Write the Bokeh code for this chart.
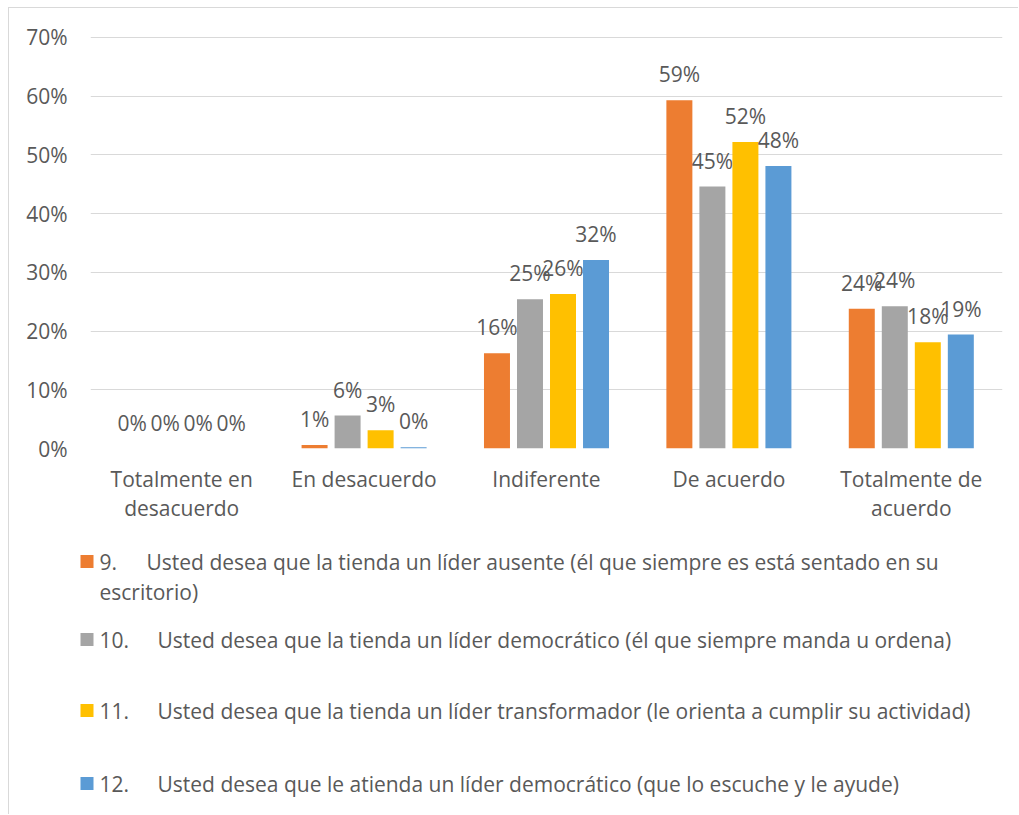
from bokeh.plotting import figure
from bokeh.models import ColumnDataSource, FactorRange, Range1d, FixedTicker, NumeralTickFormatter
from bokeh.transform import dodge
from bokeh.core.properties import value
from bokeh.embed import file_html
from bokeh.resources import INLINE

# ---------------- data ----------------
categories = ["Totalmente en\ndesacuerdo", "En desacuerdo", "Indiferente", "De acuerdo", "Totalmente de\nacuerdo"]
s9 = [0.0, 0.006, 0.162, 0.593, 0.238]
s10 = [0.0, 0.056, 0.254, 0.446, 0.242]
s11 = [0.0, 0.031, 0.263, 0.522, 0.181]
s12 = [0.0, 0.002, 0.321, 0.481, 0.194]
series_numbers = ["9.", "10.", "11.", "12."]
series_texts = [
    "Usted desea que la tienda un líder ausente (él que siempre es está sentado en su\nescritorio)",
    "Usted desea que la tienda un líder democrático (él que siempre manda u ordena)",
    "Usted desea que la tienda un líder transformador (le orienta a cumplir su actividad)",
    "Usted desea que le atienda un líder democrático (que lo escuche y le ayude)",
]
y_ticks = [0.0, 0.1, 0.2, 0.3, 0.4, 0.5, 0.6, 0.7]

colors = ["#ED7D31", "#A5A5A5", "#FFC000", "#5B9BD5"]
FONT = "Open Sans"
TXT = "#595959"
FS = "21px"
BORDER = "1px solid #D9D9D9"

series = [s9, s10, s11, s12]
keys = ["s9", "s10", "s11", "s12"]
data = dict(cat=categories)
for k, s in zip(keys, series):
    data[k] = s
    data[k + "_lbl"] = [f"{round(v * 100)}%" for v in s]
source = ColumnDataSource(data)

# ---------------- chart ----------------
p = figure(x_range=FactorRange(*categories, range_padding=0), y_range=Range1d(0, 0.7015),
           width=1010, height=535, output_backend="svg", toolbar_location=None,
           min_border_left=81, min_border_right=17, min_border_top=28, min_border_bottom=95,
           styles={"margin-left": "8px", "margin-top": "7px",
                   "border-left": BORDER, "border-top": BORDER})
p.outline_line_color = None
p.background_fill_color = "white"
p.border_fill_color = "white"

offsets = [-0.2715, -0.0905, 0.0905, 0.2715]
for k, c, off in zip(keys, colors, offsets):
    p.vbar(x=dodge("cat", off, range=p.x_range), top=k, bottom=0, width=0.1425,
           source=source, fill_color=c, line_color=None)
    p.text(x=dodge("cat", off, range=p.x_range), y=k, text=k + "_lbl", source=source,
           text_align="center", text_baseline="alphabetic", y_offset=-26,
           text_font=value(FONT), text_font_size=FS, text_color=TXT)

p.xgrid.grid_line_color = None
p.ygrid.grid_line_color = "#D9D9D9"
p.ygrid.grid_line_width = 1
p.yaxis.ticker = FixedTicker(ticks=y_ticks)
p.yaxis.formatter = NumeralTickFormatter(format="0%")
for ax in (p.xaxis, p.yaxis):
    ax.axis_line_color = None
    ax.major_tick_line_color = None
    ax.minor_tick_line_color = None
    ax.major_tick_out = 0
    ax.major_tick_in = 0
    ax.minor_tick_out = 0
    ax.major_label_text_font = FONT
    ax.major_label_text_font_size = FS
    ax.major_label_text_color = TXT
p.yaxis.major_label_standoff = 23
p.xaxis.major_label_standoff = 16
p.xaxis.major_label_text_line_height = 1.07

# ---------------- legend ----------------
LW, LH = 1010, 272
leg = figure(x_range=Range1d(0, LW), y_range=Range1d(LH, 0), width=LW, height=LH,
             output_backend="svg", toolbar_location=None, min_border=0,
             x_axis_location=None, y_axis_location=None,
             styles={"margin-left": "8px", "border-left": BORDER})
leg.outline_line_color = None
leg.xgrid.grid_line_color = None
leg.ygrid.grid_line_color = None

row_y = [19, 97, 168, 241]
text_x = [137, 148, 148, 148]
first_lines = [t.split("\n")[0] for t in series_texts]
leg_src = ColumnDataSource(dict(
    my=row_y, mx=[77.5] * 4, color=colors, num=series_numbers,
    nx=[90] * 4, tx=text_x, first=first_lines))
leg.rect(x="mx", y="my", width=13, height=13, fill_color="color", line_color=None, source=leg_src)
leg.text(x="nx", y="my", text="num", source=leg_src, text_baseline="middle",
         text_font=value(FONT), text_font_size=FS, text_color=TXT)
leg.text(x="tx", y="my", text="first", source=leg_src, text_baseline="middle",
         text_font=value(FONT), text_font_size=FS, text_color=TXT)
cont = [(i, t.split("\n")[1]) for i, t in enumerate(series_texts) if "\n" in t]
leg.text(x=[90] * len(cont), y=[row_y[i] + 30 for i, _ in cont], text=[c for _, c in cont],
         text_baseline="middle", text_font=value(FONT), text_font_size=FS, text_color=TXT)

open("out.html", "w").write(file_html([p, leg], INLINE))
